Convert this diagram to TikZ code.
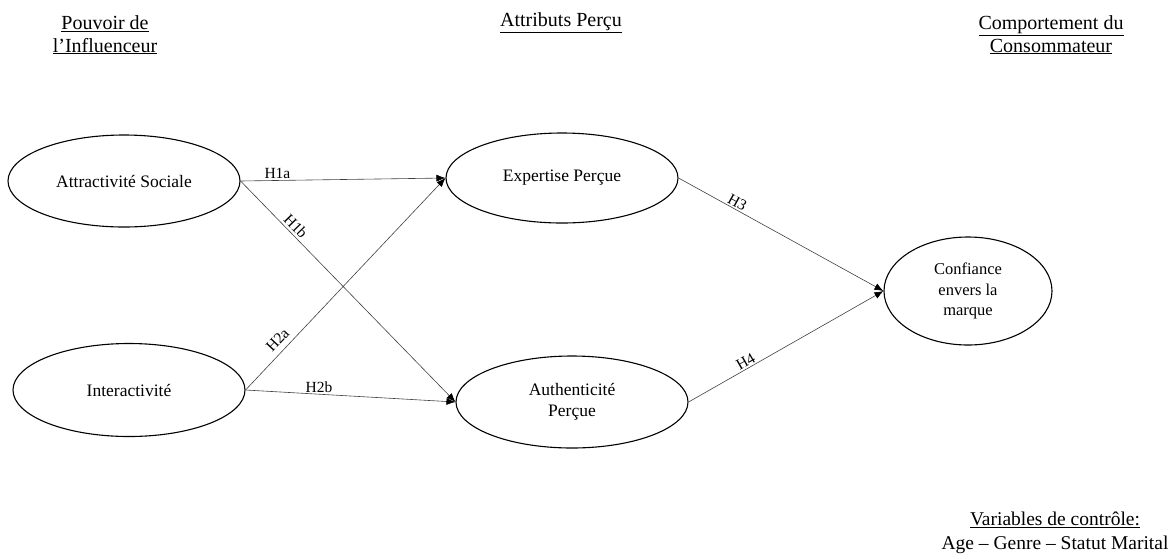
\documentclass[tikz,border=0pt]{standalone}
\usepackage{fontspec}
\setmainfont{Liberation Serif}
\usetikzlibrary{shapes.geometric,arrows.meta}
\begin{document}
\begin{tikzpicture}[x=1pt,y=-1pt,
  construct/.style={draw=black,line width=1.1pt,ellipse,inner sep=0pt,align=center,
    font=\fontsize{17.5}{21.5}\selectfont},
  header/.style={align=center,font=\fontsize{20}{22.5}\selectfont},
  link/.style={draw=black!75,line width=0.6pt,-{Latex[length=9pt,width=7pt,color=black]}},
  hlab/.style={font=\fontsize{15.5}{18}\selectfont,inner sep=1.5pt}]
\useasboundingbox (0,0) rectangle (1173,558);
% headers
\node[header] (h1) at (105,35) {\underline{Pouvoir de}\\\underline{l’Influenceur}};
\node[header] (h2) at (561,23) {\underline{Attributs Perçu}};
\node[header] (h3) at (1051,35) {\underline{Comportement du}\\\underline{Consommateur}};
% constructs
\node[construct,minimum width=232pt,minimum height=92pt] (as) at (124,181) {Attractivité Sociale};
\node[construct,minimum width=232pt,minimum height=93pt] (ia) at (129,390) {Interactivité};
\node[construct,minimum width=232pt,minimum height=90pt] (ep) at (562,178) {Expertise Perçue};
\node[construct,minimum width=232pt,minimum height=92pt] (ap) at (572,402) {Authenticité\\Perçue};
\node[construct,minimum width=168pt,minimum height=108pt,font=\fontsize{16.5}{20.5}\selectfont] (cf) at (968,291) {Confiance\\envers la\\marque};
% connectors
\draw[link] (as.east) -- node[hlab,above,pos=0.18] {H1a} (ep.west);
\draw[link] (as.east) -- node[hlab,above=1pt,sloped,pos=0.23] {H1b} (ap.west);
\draw[link] (ia.east) -- node[hlab,above=4pt,sloped,pos=0.2] {H2a} (ep.west);
\draw[link] (ia.east) -- node[hlab,above,pos=0.35] {H2b} (ap.west);
\draw[link] (ep.east) -- node[hlab,above,sloped,pos=0.27] {H3} (cf.west);
\draw[link] (ap.east) -- node[hlab,above,sloped,pos=0.31] {H4} (cf.west);
% control variables
\node[header,font=\fontsize{19.5}{23.5}\selectfont] (cv) at (1055,533) {\underline{Variables de contrôle:}\\Age – Genre – Statut Marital};
\end{tikzpicture}
\end{document}
